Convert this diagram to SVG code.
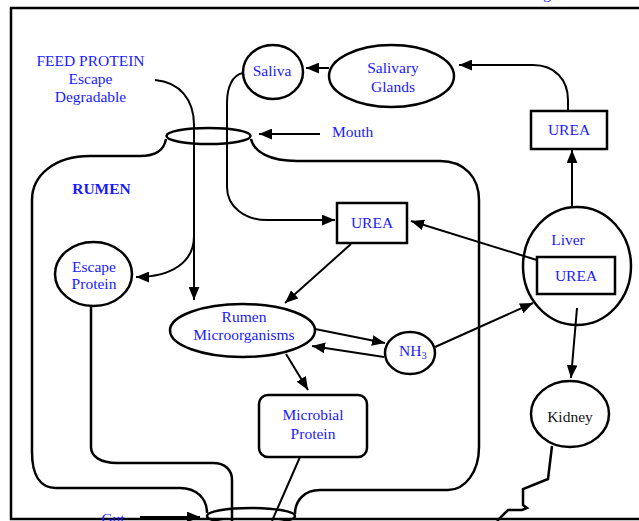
<svg xmlns="http://www.w3.org/2000/svg" width="639" height="521" viewBox="0 0 639 521">
<defs>
<style>
.t{font-family:"Liberation Serif","Times New Roman",serif;font-size:15.5px;fill:#1a1aff;text-anchor:middle}
.k{fill:#111}
.b{font-weight:bold}
.n{fill:#fff;stroke:#000;stroke-width:2.5}
.c{fill:none;stroke:#000;stroke-width:2}
.r{fill:none;stroke:#000;stroke-width:2.5}
.a{marker-end:url(#ah)}
</style>
<marker id="ah" viewBox="0 0 12 10" refX="12" refY="5" markerWidth="13" markerHeight="11" markerUnits="userSpaceOnUse" orient="auto"><path d="M0,0 L12,5 L0,10 z" fill="#000"/></marker>
</defs>
<rect width="639" height="521" fill="#fff"/>
<rect x="11" y="8" width="650" height="511" fill="none" stroke="#000" stroke-width="2.5"/>
<text class="t" x="547" y="-1">g</text>

<g id="rumen-outline">
<path class="r" d="M166,139 C164,150 157,156 140,156 H90 C55,156 32,175 32,200 V452 C32,475 40,488 56,488 H180 C196,488 207,498 207,513"/>
<path class="r" d="M251,139 C254,152 270,161 297,161 H440 C465,161 479,178 479,200 V447 C479,472 465,490 448,490 H320 C305,490 295,500 295,514"/>
<text class="t b" x="101.5" y="194">RUMEN</text>
</g>

<g id="connectors">
<path class="c a" d="M155,80 C180,82 194,100 194,125 V300"/>
<path class="c a" d="M194,236 C194,262 172,277 136,277"/>
<path class="c a" d="M243,73 C232,75 227,88 227,103 V187 C227,207 245,220 267,220 H335"/>
<path class="c a" d="M329,68 H306"/>
<path class="c a" d="M568,111 V100 C568,80 555,65 533,65 H459"/>
<path class="c a" d="M572,207 V150"/>
<path class="c a" d="M320,134 H259"/>
<path class="c a" d="M540,261 L411,221"/>
<path class="c a" d="M351,244 L285,303"/>
<path class="c a" d="M315,329 L385,343"/>
<path class="c a" d="M384,357 L312,346"/>
<path class="c a" d="M435,347 L533,303"/>
<path class="c a" d="M286,354 L308,390"/>
<path class="c a" d="M577,308 L571,378"/>
<path class="r" d="M552,446 L548,479 L523,489 L523,505 L527,508 L522,510 L508,510 L497,521"/>
<path class="r" d="M91,306 V447 C91,456 100,463 117,463 H213 C225,463 232,470 232,480 V521"/>
<path class="c" d="M300,457 L272,521"/>
<path class="c a" d="M140,517 H200"/>
</g>

<g id="feed-protein">
<text class="t" x="90.5" y="65.5">FEED PROTEIN</text>
<text class="t" x="90.5" y="83.5">Escape</text>
<text class="t" x="90.5" y="101.5">Degradable</text>
</g>

<g id="mouth">
<ellipse class="r" cx="208.5" cy="136" rx="42" ry="8" fill="none"/>
<text class="t" x="332" y="137" style="text-anchor:start">Mouth</text>
</g>

<g id="saliva">
<ellipse class="n" cx="273" cy="72" rx="30" ry="27"/>
<text class="t" x="272" y="76">Saliva</text>
</g>

<g id="salivary-glands">
<ellipse class="n" cx="391.5" cy="76" rx="62.5" ry="31"/>
<text class="t" x="393" y="73">Salivary</text>
<text class="t" x="393" y="92">Glands</text>
</g>

<g id="urea-top">
<rect class="n" x="531" y="111" width="76" height="38"/>
<text class="t" x="569" y="135">UREA</text>
</g>

<g id="urea-rumen">
<rect class="n" x="337" y="203" width="70" height="40"/>
<text class="t" x="372" y="228">UREA</text>
</g>

<g id="liver">
<ellipse class="r" cx="577" cy="266" rx="54" ry="59" fill="none"/>
<text class="t" x="568" y="245">Liver</text>
<rect class="n" x="537" y="257" width="78" height="37"/>
<text class="t" x="576" y="281">UREA</text>
</g>

<g id="escape-protein">
<ellipse class="n" cx="93.5" cy="274" rx="38.5" ry="32"/>
<text class="t" x="94" y="272">Escape</text>
<text class="t" x="94" y="289">Protein</text>
</g>

<g id="rumen-microorganisms">
<ellipse class="n" cx="242.5" cy="330.5" rx="72.5" ry="26.5"/>
<text class="t" x="244" y="322">Rumen</text>
<text class="t" x="244" y="340">Microorganisms</text>
</g>

<g id="nh3">
<ellipse class="n" cx="410" cy="353" rx="25" ry="21"/>
<text class="t" x="399" y="356" style="text-anchor:start">NH<tspan font-size="10.5" dy="3">3</tspan></text>
</g>

<g id="microbial-protein">
<rect class="n" x="259" y="395" width="108" height="62" rx="9"/>
<text class="t" x="313" y="420">Microbial</text>
<text class="t" x="313" y="439">Protein</text>
</g>

<g id="kidney">
<ellipse class="n" cx="570" cy="414" rx="39" ry="33"/>
<text class="t k" x="570" y="422">Kidney</text>
</g>

<g id="gut">
<ellipse class="r" cx="251" cy="516" rx="44" ry="8" fill="none"/>
<text class="t" x="113" y="524">Gut</text>
</g>
</svg>
